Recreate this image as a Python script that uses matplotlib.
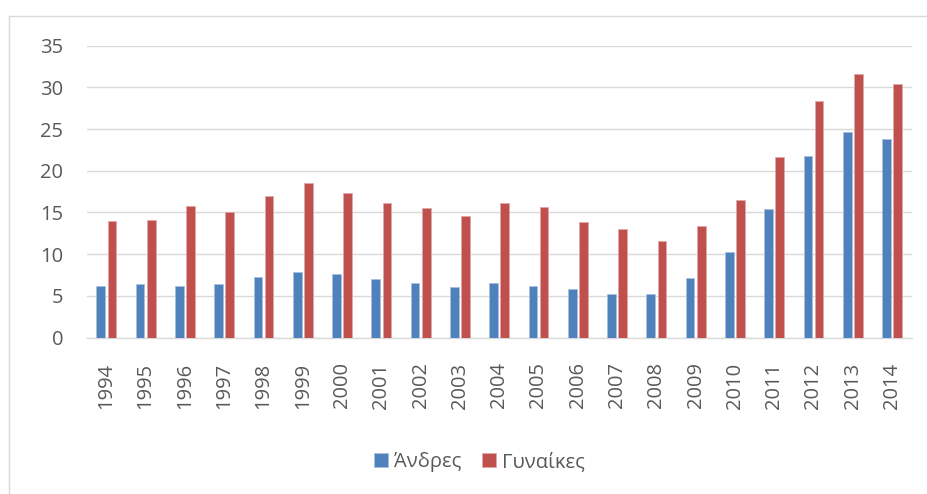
import matplotlib
matplotlib.use("Agg")
import matplotlib.pyplot as plt
import matplotlib.patches as mpatches
import numpy as np

years = ["1994", "1995", "1996", "1997", "1998", "1999", "2000", "2001", "2002", "2003",
         "2004", "2005", "2006", "2007", "2008", "2009", "2010", "2011", "2012", "2013", "2014"]
men = [6.2, 6.4, 6.2, 6.4, 7.2, 7.8, 7.6, 7.0, 6.5, 6.0,
       6.5, 6.2, 5.8, 5.2, 5.2, 7.1, 10.2, 15.4, 21.8, 24.7, 23.8]
women = [14.0, 14.1, 15.8, 15.1, 17.0, 18.5, 17.3, 16.1, 15.5, 14.6,
         16.1, 15.6, 13.9, 13.0, 11.6, 13.4, 16.5, 21.7, 28.4, 31.6, 30.4]
series_names = ["Άνδρες", "Γυναίκες"]
yticks = [0, 5, 10, 15, 20, 25, 30, 35]

plt.rcParams['font.family'] = ['Open Sans', 'DejaVu Sans']
text_color = '#595959'
grid_color = '#D9D9D9'
blue = '#4F81BD'
red = '#C0504D'

fig = plt.figure(figsize=(9.28, 4.94), dpi=100)
ax = fig.add_axes([86.7 / 928, 1 - 337.5 / 494, (911.7 - 86.7) / 928, (337.5 - 45.7) / 494])

x = np.arange(len(years))
w = 0.221
off = 0.1425
ax.bar(x - off, men, width=w, color=blue, edgecolor='#A7C0DE', linewidth=0.6,
       label=series_names[0], zorder=3)
ax.bar(x + off, women, width=w, color=red, edgecolor='#E0A8A6', linewidth=0.6,
       label=series_names[1], zorder=3)

ax.set_xlim(-0.5, len(years) - 0.5)
ax.set_ylim(0, 35)
ax.set_yticks(yticks)
ax.set_yticklabels([str(t) for t in yticks])
ax.set_xticks(x)
ax.set_xticklabels(years, rotation=90)
ax.yaxis.grid(True, color=grid_color, linewidth=1.0, zorder=0)
ax.set_axisbelow(True)
for s in ['top', 'right', 'left']:
    ax.spines[s].set_visible(False)
ax.spines['bottom'].set_color(grid_color)
ax.spines['bottom'].set_linewidth(1.0)
ax.tick_params(axis='both', length=0, labelsize=14.5, colors=text_color)
ax.tick_params(axis='y', pad=17)
ax.tick_params(axis='x', pad=18)

leg = fig.legend(loc='center', bbox_to_anchor=(479.5 / 928, 1 - 462 / 494), ncol=2,
                 frameon=False, fontsize=14.5, handlelength=0.7, handleheight=0.7,
                 handletextpad=0.3, columnspacing=1.0)
for t in leg.get_texts():
    t.set_color(text_color)

border = mpatches.Rectangle((9 / 928, -0.1), 1.0, 1 - 16 / 494 + 0.1,
                            transform=fig.transFigure, fill=False,
                            edgecolor=grid_color, linewidth=1.0)
fig.patches.append(border)

fig.savefig('out.png', dpi=100)
